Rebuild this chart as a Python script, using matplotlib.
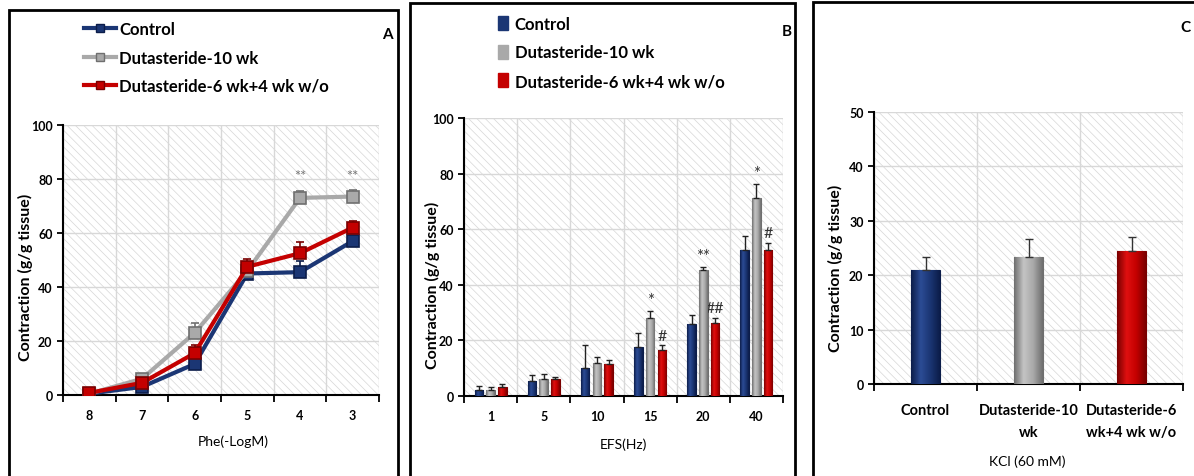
import matplotlib.pyplot as plt
import numpy as np
from matplotlib.patches import Rectangle
from matplotlib.lines import Line2D
from matplotlib.colors import LinearSegmentedColormap

plt.rcParams['font.family'] = ['Lato', 'DejaVu Sans']
plt.rcParams['hatch.linewidth'] = 0.5

# groups and colours
groups = ['Control', 'Dutasteride-10 wk', 'Dutasteride-6 wk+4 wk w/o']
colors = ['#1b3674', '#a9a9a9', '#c40000']
dark = ['#0c1d4a', '#6f6f6f', '#7a0000']
light = ['#2c4c95', '#c4c4c4', '#e01010']

# panel A: Phe concentration-response
phe_labels = ['8', '7', '6', '5', '4', '3']
phe_control = [0.5, 3, 11.5, 45, 45.5, 57]
phe_dut10 = [0.5, 6, 23, 46, 73, 73.5]
phe_dut6 = [0.8, 4.5, 15.5, 47.5, 52.5, 62]
phe_control_err = [0.4, 0.8, 1.2, 1.0, 4.0, 1.2]
phe_dut10_err = [0.4, 1.0, 3.5, 1.0, 2.5, 2.5]
phe_dut6_err = [0.4, 0.8, 3.0, 3.0, 4.0, 2.5]
phe_sig = ['', '', '', '', '**', '**']

# panel B: EFS frequency-response
efs_labels = ['1', '5', '10', '15', '20', '40']
efs_control = [2.0, 5.4, 10.2, 17.6, 25.8, 52.6]
efs_dut10 = [2.3, 6.2, 11.9, 28.1, 45.2, 71.3]
efs_dut6 = [3.2, 6.0, 11.4, 16.7, 26.3, 52.6]
efs_control_err = [1.6, 2.0, 8.0, 5.1, 3.2, 4.8]
efs_dut10_err = [1.0, 1.6, 2.1, 2.5, 1.3, 5.1]
efs_dut6_err = [1.1, 0.7, 1.4, 1.5, 1.9, 2.6]
efs_sig_dut10 = ['', '', '', '*', '**', '*']
efs_sig_dut6 = ['', '', '', '#', '##', '#']

# panel C: KCl
kcl_labels = ['Control', 'Dutasteride-10\nwk', 'Dutasteride-6\nwk+4 wk w/o']
kcl_values = [21.0, 23.3, 24.4]
kcl_err = [2.3, 3.4, 2.7]

W, H = 1194, 477
fig = plt.figure(figsize=(W / 100, H / 100), dpi=100)


def px_axes(x0, x1, ytop, ybot):
    return fig.add_axes([x0 / W, 1 - ybot / H, (x1 - x0) / W, (ybot - ytop) / H])


def style_axes(ax, labels, ymax, ystep):
    n = len(labels)
    ax.set_xlim(-0.5, n - 0.5)
    ax.set_ylim(0, ymax)
    ax.set_yticks(np.arange(0, ymax + 1, ystep))
    ax.set_xticks(range(n))
    ax.set_xticklabels(labels)
    ax.set_xticks(np.arange(-0.5, n), minor=True)
    ax.tick_params(axis='x', which='major', length=0, pad=10, labelsize=9)
    ax.tick_params(axis='x', which='minor', length=5, width=1.3)
    ax.tick_params(axis='y', length=4, width=1.3, labelsize=9)
    for lab in ax.get_xticklabels() + ax.get_yticklabels():
        lab.set_fontweight('bold')
    ax.grid(axis='y', which='major', color='#d8d8d8', lw=1)
    ax.grid(axis='x', which='minor', color='#d8d8d8', lw=1)
    ax.set_axisbelow(True)
    ax.patch.set_facecolor('white')
    ax.add_patch(Rectangle((0, 0), 1, 1, transform=ax.transAxes, facecolor='none',
                           edgecolor='#d6d6d6', hatch='\\\\\\\\', lw=0, zorder=0))
    for s in ['top', 'right']:
        ax.spines[s].set_visible(False)
    for s in ['left', 'bottom']:
        ax.spines[s].set_linewidth(1.5)
    ax.set_ylabel('Contraction (g/g tissue)', fontsize=11.5, fontweight='bold')


def bevel_bars(ax, bars, i):
    cmap = LinearSegmentedColormap.from_list('b', [dark[i], light[i], colors[i], dark[i]])
    grad = np.linspace(0, 1, 64).reshape(1, -1)
    for b in bars:
        x0, y0, w, h = b.get_x(), b.get_y(), b.get_width(), b.get_height()
        im = ax.imshow(grad, extent=[x0, x0 + w, y0, y0 + h], aspect='auto', cmap=cmap,
                       interpolation='bilinear', zorder=3.2)
        im.set_clip_path(b)


# panel borders
for x0, x1, ytop in [(9, 398, 11), (410, 795, 4), (813, 1230, 3)]:
    fig.add_artist(Rectangle((x0 / W, -0.1), (x1 - x0) / W, 1.1 - ytop / H,
                             transform=fig.transFigure, fill=False, lw=2, ec='black'))

# ---- A
axA = px_axes(63, 379, 126, 396)
style_axes(axA, phe_labels, 100, 20)
axA.yaxis.set_label_coords(-0.095, 0.44)
xs = np.arange(len(phe_labels))
for i in [1, 0, 2]:
    vals = [phe_control, phe_dut10, phe_dut6][i]
    errs = [phe_control_err, phe_dut10_err, phe_dut6_err][i]
    axA.errorbar(xs, vals, yerr=[np.zeros(len(errs)), errs], fmt='none', ecolor=dark[i],
                 elinewidth=1.2, capsize=3, capthick=1.2, zorder=3 + i)
    axA.plot(xs, vals, color=colors[i], lw=3, marker='s', ms=8, mfc=colors[i],
             mec=dark[i], mew=1.2, zorder=3 + i)
for x, s in zip(xs, phe_sig):
    if s:
        axA.text(x, 78.5, s, ha='center', va='bottom', fontsize=10.5, color='#777777')
handles = [Line2D([], [], color=colors[i], lw=3, marker='s', ms=6, mec=dark[i]) for i in range(3)]
fig.legend(handles, groups, loc='upper left', bbox_to_anchor=(84 / W, 1 - 22 / H),
           frameon=False, handlelength=1.9, handletextpad=0.2,
           labelspacing=0.75, borderpad=0, borderaxespad=0,
           prop={'weight': 'bold', 'size': 12})
fig.text(387 / W, 1 - 35 / H, 'A', ha='center', va='center', fontsize=11, fontweight='bold')
fig.text(233 / W, 1 - 442 / H, 'Phe(-LogM)', ha='center', va='center', fontsize=10)

# ---- B
axB = px_axes(464, 783, 119, 397)
style_axes(axB, efs_labels, 100, 20)
axB.yaxis.set_label_coords(-0.075, 0.4)
xs = np.arange(len(efs_labels))
off = 0.22
bw = 0.16
series = [(efs_control, efs_control_err), (efs_dut10, efs_dut10_err), (efs_dut6, efs_dut6_err)]
for i, (vals, errs) in enumerate(series):
    pos = xs + (i - 1) * off
    bars = axB.bar(pos, vals, width=bw, color=colors[i], edgecolor=dark[i], lw=0.8, zorder=3)
    bevel_bars(axB, bars, i)
    axB.errorbar(pos, vals, yerr=[np.zeros(len(errs)), errs], fmt='none', ecolor='#222222',
                 elinewidth=1, capsize=2.5, capthick=1, zorder=4)
for x, s, v, e in zip(xs, efs_sig_dut10, efs_dut10, efs_dut10_err):
    if s:
        axB.text(x, v + e + 1.0, s, ha='center', va='bottom', fontsize=12, color='#333333')
for x, s, v, e in zip(xs, efs_sig_dut6, efs_dut6, efs_dut6_err):
    if s:
        axB.text(x + off, v + e + 1.0, s, ha='center', va='bottom', fontsize=11.5, color='#333333')
axB.set_xlim(-0.5, len(efs_labels) - 0.5)
axB.set_ylim(0, 100)
handlesB = [Rectangle((0, 0), 1, 1, color=c) for c in colors]
fig.legend(handlesB, groups, loc='upper left', bbox_to_anchor=(498 / W, 1 - 17 / H),
           frameon=False, handlelength=0.6, handleheight=0.9, handletextpad=0.4,
           labelspacing=0.75, borderpad=0, borderaxespad=0,
           prop={'weight': 'bold', 'size': 12})
fig.text(787 / W, 1 - 32 / H, 'B', ha='center', va='center', fontsize=11, fontweight='bold')
fig.text(623 / W, 1 - 445 / H, 'EFS(Hz)', ha='center', va='center', fontsize=10)

# ---- C
axC = px_axes(874, 1183, 113, 385)
style_axes(axC, kcl_labels, 50, 10)
axC.tick_params(axis='x', which='major', labelsize=10.5, pad=14)
for lab in axC.get_xticklabels():
    lab.set_linespacing(1.7)
axC.yaxis.set_label_coords(-0.1, 0.43)
xs = np.arange(len(kcl_labels))
for i in range(3):
    bars = axC.bar(xs[i], kcl_values[i], width=0.28, color=colors[i], edgecolor=dark[i],
                   lw=0.8, zorder=3)
    bevel_bars(axC, bars, i)
axC.errorbar(xs, kcl_values, yerr=[np.zeros(3), kcl_err], fmt='none', ecolor='#333333',
             elinewidth=1, capsize=3, capthick=1, zorder=4)
axC.set_xlim(-0.5, len(kcl_labels) - 0.5)
axC.set_ylim(0, 50)
fig.text(1185 / W, 1 - 28 / H, 'C', ha='center', va='center', fontsize=11, fontweight='bold')
fig.text(1027 / W, 1 - 462 / H, 'KCl (60 mM)', ha='center', va='center', fontsize=10)

fig.savefig('out.png', dpi=100)
